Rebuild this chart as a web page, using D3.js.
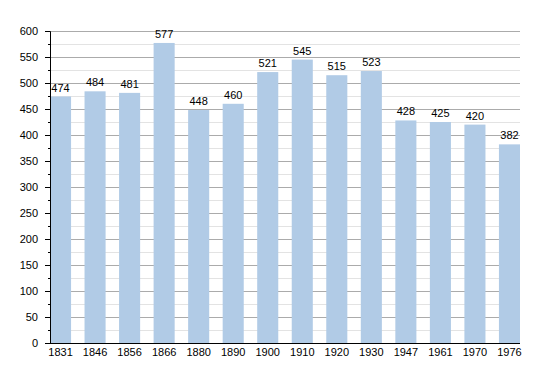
<!DOCTYPE html>
<html>
<head>
<meta charset="utf-8">
<script src="https://cdn.jsdelivr.net/npm/d3@7"></script>
<style>
  body { margin: 0; background: #fff; }
  text { font-family: "Liberation Sans", Arial, sans-serif; }
</style>
</head>
<body>
<svg id="chart" width="550" height="373"></svg>
<script>
const years = ['1831', '1846', '1856', '1866', '1880', '1890', '1900', '1910', '1920', '1930', '1947', '1961', '1970', '1976'];
const population = [474, 484, 481, 577, 448, 460, 521, 545, 515, 523, 428, 425, 420, 382];
const majorTicks = [0, 50, 100, 150, 200, 250, 300, 350, 400, 450, 500, 550, 600];
const minorTicks = [25, 75, 125, 175, 225, 275, 325, 375, 425, 475, 525, 575];

const margin = {top: 31, right: 30, bottom: 30, left: 50},
  width = 550 - margin.left - margin.right,
  height = 373 - margin.top - margin.bottom;

const svg = d3.select('#chart')
  .append('g')
  .attr('transform', `translate(${margin.left},${margin.top})`);

const x = d3.scaleBand()
  .domain(years)
  .range([0, width])
  .paddingInner(0.39)
  .paddingOuter(0);

const y = d3.scaleLinear()
  .domain([0, 600])
  .range([height, 0]);

// minor gridlines
svg.selectAll('.minor-grid')
  .data(minorTicks)
  .join('line')
  .attr('x1', 0).attr('x2', width)
  .attr('y1', d => y(d) + 0.5).attr('y2', d => y(d) + 0.5)
  .attr('stroke', '#e3e3e3');

// major gridlines
svg.selectAll('.major-grid')
  .data(majorTicks.slice(1))
  .join('line')
  .attr('x1', 0).attr('x2', width)
  .attr('y1', d => y(d) + 0.5).attr('y2', d => y(d) + 0.5)
  .attr('stroke', '#ababab');

// bars
svg.selectAll('.bar')
  .data(population)
  .join('rect')
  .attr('x', (d, i) => x(years[i]))
  .attr('y', d => y(d))
  .attr('width', x.bandwidth())
  .attr('height', d => height - y(d))
  .attr('fill', '#b1cbe6');

// value labels
svg.selectAll('.value')
  .data(population)
  .join('text')
  .attr('x', (d, i) => x(years[i]) + x.bandwidth() / 2)
  .attr('y', d => y(d) - 5)
  .attr('text-anchor', 'middle')
  .style('font-size', '11px')
  .style('fill', '#000')
  .text(d => d);

// y axis
const yAxis = svg.append('g')
  .call(d3.axisLeft(y).tickValues(majorTicks).tickSize(5).tickPadding(7));
yAxis.selectAll('text').style('font-size', '11px').style('fill', '#000');
yAxis.select('.domain').attr('stroke', '#000');
yAxis.selectAll('.tick line').attr('stroke', '#000');

svg.append('g')
  .call(d3.axisLeft(y).tickValues(minorTicks).tickSize(2).tickFormat(''))
  .call(g => g.select('.domain').remove())
  .selectAll('.tick line').attr('stroke', '#000');

// x axis
const xAxis = svg.append('g')
  .attr('transform', `translate(0,${height})`)
  .call(d3.axisBottom(x).tickSize(0).tickPadding(5));
xAxis.select('.domain').attr('stroke', '#000').attr('d', `M0,0.5H${width}`);
xAxis.selectAll('text').style('font-size', '11px').style('fill', '#000');
</script>
</body>
</html>
